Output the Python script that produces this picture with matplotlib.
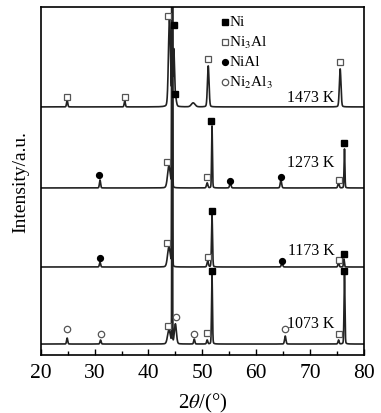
import matplotlib.pyplot as plt
import numpy as np

plt.rcParams['font.family'] = ['Liberation Serif', 'DejaVu Serif']
plt.rcParams['mathtext.fontset'] = 'stix'

# temperatures, bottom to top, and their baselines (in plot units)
temps = ['1073 K', '1173 K', '1273 K', '1473 K']
baselines = [11, 88, 167, 248]

# peaks: position (deg), height above baseline, width
peaks_1073 = [(24.9, 6, 0.25), (31.1, 4, 0.25), (43.8, 14, 0.6), (44.4, 420, 0.12),
              (45.0, 20, 0.45), (48.5, 5, 0.25), (50.9, 4, 0.25), (51.8, 69, 0.2),
              (65.4, 8, 0.3), (75.3, 4, 0.25), (76.4, 69, 0.2)]
peaks_1173 = [(31.0, 5, 0.25), (43.8, 20, 0.6), (44.4, 420, 0.14), (51.0, 6, 0.3),
              (51.8, 52, 0.22), (64.8, 4, 0.3), (75.3, 5, 0.25), (76.3, 8, 0.2)]
peaks_1273 = [(31.0, 8, 0.25), (43.8, 22, 0.6), (44.4, 420, 0.14), (50.9, 5, 0.3),
              (51.8, 62, 0.18), (55.2, 5, 0.3), (64.6, 8, 0.3), (75.3, 5, 0.3),
              (76.4, 39, 0.18)]
peaks_1473 = [(24.9, 7, 0.25), (35.6, 6, 0.25), (43.9, 88, 0.45), (44.4, 420, 0.1),
              (44.7, 55, 0.3), (45.0, 9, 0.4), (48.3, 4, 0.8), (51.1, 41, 0.35),
              (75.6, 38, 0.35)]
peak_sets = [peaks_1073, peaks_1173, peaks_1273, peaks_1473]

# phase markers: (phase, 2theta, y in plot units)
marks_1073 = [('o', 24.9, 26), ('o', 31.1, 21), ('s', 43.6, 29), ('o', 45.2, 38),
              ('o', 48.5, 21), ('s', 50.9, 22), ('N', 51.8, 84), ('o', 65.4, 26),
              ('s', 75.3, 21), ('N', 76.4, 84)]
marks_1173 = [('A', 31.0, 97), ('s', 43.5, 112), ('s', 51.0, 98), ('N', 51.8, 144),
              ('A', 64.8, 94), ('s', 75.3, 95), ('N', 76.3, 101)]
marks_1273 = [('A', 30.9, 180), ('s', 43.5, 193), ('s', 50.9, 178), ('N', 51.7, 234),
              ('A', 55.2, 174), ('A', 64.6, 178), ('s', 75.4, 175), ('N', 76.4, 212)]
marks_1473 = [('s', 24.9, 258), ('s', 35.6, 258), ('s', 43.6, 339), ('N', 44.7, 330),
              ('N', 44.9, 261), ('s', 51.1, 296), ('s', 75.6, 293)]
mark_sets = [marks_1073, marks_1173, marks_1273, marks_1473]

label_y = [32, 105, 193, 258]

legend_names = ['Ni', r'Ni$_3$Al', 'NiAl', r'Ni$_2$Al$_3$']
legend_keys = ['N', 's', 'A', 'o']

styles = {
    'N': dict(marker='s', markersize=4.2, markerfacecolor='black', markeredgecolor='black'),
    's': dict(marker='s', markersize=4.6, markerfacecolor='white', markeredgecolor='#555555',
              markeredgewidth=0.9),
    'A': dict(marker='o', markersize=4.2, markerfacecolor='black', markeredgecolor='black'),
    'o': dict(marker='o', markersize=4.6, markerfacecolor='white', markeredgecolor='#555555',
              markeredgewidth=0.9),
}


def profile(x, pos, h, w, eta=0.15):
    # pseudo-Voigt, mostly gaussian so the feet stay narrow
    hw = w / 2
    g = np.exp(-np.log(2) * ((x - pos) / hw) ** 2)
    l = 1 / (1 + ((x - pos) / hw) ** 2)
    return h * ((1 - eta) * g + eta * l)


fig = plt.figure(figsize=(3.81, 4.14), dpi=100)
ax = fig.add_axes([0.107, 0.14, 0.848, 0.841])

x = np.arange(20, 80.001, 0.01)
for base, peaks, marks, temp, ly in zip(baselines, peak_sets, mark_sets, temps, label_y):
    y = np.full_like(x, base, dtype=float)
    for pos, h, w in peaks:
        eta = 0.03 if h > 300 else 0.15
        y += profile(x, pos, h, w, eta)
    ax.plot(x, y, color='#222222', lw=1.2)
    for key, px, py in marks:
        ax.plot(px, py, linestyle='none', **styles[key])
    ax.text(70.2, ly, temp, ha='center', va='center', fontsize=11.5)

# legend drawn as markers and text
for i, (key, name) in enumerate(zip(legend_keys, legend_names)):
    ly = 333 - i * 20
    ax.plot(54.2, ly, linestyle='none', **styles[key])
    ax.text(55.0, ly, name, ha='left', va='center', fontsize=11)

ax.set_xlim(20, 80)
ax.set_ylim(0, 348)
ax.set_xticks(np.arange(20, 81, 10))
ax.set_xticks(np.arange(25, 80, 10), minor=True)
ax.set_yticks([])
ax.tick_params(axis='x', direction='in', length=4, width=1, labelsize=15.5, pad=6)
ax.tick_params(axis='x', which='minor', direction='in', length=3, width=1)
for s in ax.spines.values():
    s.set_linewidth(1.2)
ax.set_xlabel(r'2$\theta$/(°)', fontsize=15, labelpad=6)
ax.set_ylabel('Intensity/a.u.', fontsize=14, labelpad=8)

fig.savefig('out.png', dpi=100)
